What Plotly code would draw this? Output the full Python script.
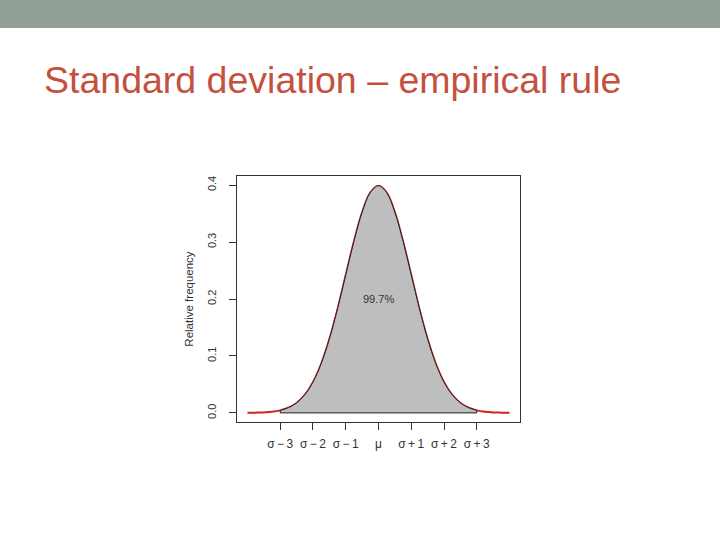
import plotly.graph_objects as go

# Density curve values (relative frequency vs. sigma offset)
x_vals = [-4.0, -3.75, -3.5, -3.25, -3.0, -2.75, -2.5, -2.25, -2.0, -1.75, -1.5, -1.25, -1.0,
          -0.75, -0.5, -0.25, 0.0, 0.25, 0.5, 0.75, 1.0, 1.25, 1.5, 1.75, 2.0, 2.25, 2.5,
          2.75, 3.0, 3.25, 3.5, 3.75, 4.0]
y_vals = [0.0001, 0.0004, 0.0009, 0.0020, 0.0044, 0.0091, 0.0175, 0.0317, 0.0540, 0.0863,
          0.1295, 0.1826, 0.2420, 0.3011, 0.3521, 0.3867, 0.3989, 0.3867, 0.3521, 0.3011,
          0.2420, 0.1826, 0.1295, 0.0863, 0.0540, 0.0317, 0.0175, 0.0091, 0.0044, 0.0020,
          0.0009, 0.0004, 0.0001]

shade_from, shade_to = -3, 3
shade_label = "99.7%"

x_tick_vals = [-3, -2, -1, 0, 1, 2, 3]
x_tick_text = ["σ\u2009−\u20093", "σ\u2009−\u20092", "σ\u2009−\u20091", "μ",
               "σ\u2009+\u20091", "σ\u2009+\u20092", "σ\u2009+\u20093"]
y_tick_vals = [0.0, 0.1, 0.2, 0.3, 0.4]
y_tick_text = ["0.0", "0.1", "0.2", "0.3", "0.4"]

title_text = "Standard deviation – empirical rule"
y_title = "Relative frequency"

sx = [x for x in x_vals if shade_from <= x <= shade_to]
sy = [y for x, y in zip(x_vals, y_vals) if shade_from <= x <= shade_to]

fig = go.Figure()
fig.add_trace(go.Scatter(x=x_vals, y=y_vals, mode="lines",
                         line=dict(color="#d21f1f", width=2, shape="spline"),
                         hoverinfo="skip", showlegend=False))
fig.add_trace(go.Scatter(x=sx, y=sy, mode="lines", fill="tozeroy", fillcolor="#bebebe",
                         line=dict(color="#222222", width=1, shape="spline"),
                         hoverinfo="skip", showlegend=False))
fig.add_trace(go.Scatter(x=[sx[0], sx[0], sx[-1], sx[-1]], y=[sy[0], 0, 0, sy[-1]],
                         mode="lines", line=dict(color="#222222", width=1),
                         hoverinfo="skip", showlegend=False))

fig.add_annotation(x=0, y=0.2, text=shade_label, showarrow=False,
                   font=dict(family="Liberation Sans", size=11, color="#333333"))

W, H = 720, 540
L, R, T, B = 237, 200, 176, 118
pw, ph = W - L - R, H - T - B

# slide header bar (in paper coords spanning full page width)
fig.add_shape(type="rect", xref="paper", yref="paper",
              x0=-L / pw, x1=(W - L) / pw,
              y0=(H - 28 - B) / ph, y1=(H - B) / ph,
              fillcolor="#929f95", line=dict(width=0), layer="below")

fig.update_layout(
    width=W, height=H,
    margin=dict(l=L, r=R, t=T, b=B),
    paper_bgcolor="white", plot_bgcolor="white",
    title=dict(text=title_text, x=44 / W, xanchor="left", xref="container",
               y=1 - 80 / H, yanchor="middle", yref="container",
               font=dict(family="Liberation Sans", size=37.5, color="#c4503e")),
    xaxis=dict(range=[-4.32, 4.32], tickvals=x_tick_vals, ticktext=x_tick_text,
               ticks="outside", ticklen=7, tickcolor="#333333", showgrid=False,
               zeroline=False, showline=True, mirror=True, linecolor="#333333",
               linewidth=1, ticklabelstandoff=4,
               tickfont=dict(family="Liberation Sans", size=12, color="#333333")),
    yaxis=dict(range=[-0.016, 0.416], tickvals=y_tick_vals, ticktext=y_tick_text,
               ticks="outside", ticklen=7, tickcolor="#333333", showgrid=False,
               zeroline=False, showline=True, mirror=True, linecolor="#333333",
               linewidth=1, tickangle=-90, ticklabelstandoff=9,
               tickfont=dict(family="Liberation Sans", size=11, color="#333333"),
               title=dict(text=y_title, standoff=9,
                          font=dict(family="Liberation Sans", size=11.5, color="#333333"))),
)

fig.write_html("out.html", config={"displayModeBar": False},
               post_script="document.body.style.margin='0';")
